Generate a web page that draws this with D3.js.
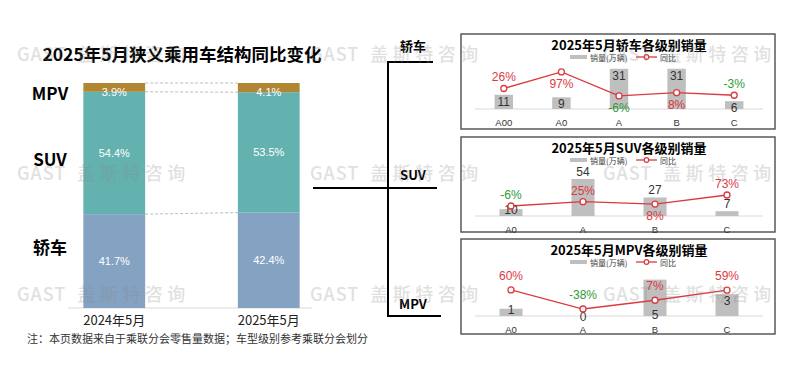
<!DOCTYPE html>
<html>
<head>
<meta charset="UTF-8">
<script src="https://cdn.jsdelivr.net/npm/d3@7"></script>
<style>
  body { margin: 0; background: #fff; }
  text { font-family: "Liberation Sans", "Noto Sans CJK SC", sans-serif; }
  .cjk { font-family: "Noto Sans CJK SC", sans-serif; }
</style>
</head>
<body>
<svg id="chart" width="800" height="375"></svg>
<script>
// left: structure share
var years = ['2024年5月', '2025年5月'];
var segments = ['轿车', 'SUV', 'MPV'];
var share2024 = [41.7, 54.4, 3.9];
var share2025 = [42.4, 53.5, 4.1];

// right: sales (万辆) and yoy (%) by level
var sedanLevels = ['A00', 'A0', 'A', 'B', 'C'];
var sedanSales = [11, 9, 31, 31, 6];
var sedanYoy = [26, 97, -6, 8, -3];

var suvLevels = ['A0', 'A', 'B', 'C'];
var suvSales = [10, 54, 27, 7];
var suvYoy = [-6, 25, 8, 73];

var mpvLevels = ['A0', 'A', 'B', 'C'];
var mpvSales = [1, 0, 5, 3];
var mpvYoy = [60, -38, 7, 59];

var segColors = ['#84A2C2', '#63B2AF', '#B08632'];
var RED = '#DB3A3F', GREEN = '#2F9A35';

var svg = d3.select('#chart');

// ---------- left stacked chart ----------
svg.append('text').attr('class', 'cjk')
  .attr('x', 182).attr('y', 53).attr('text-anchor', 'middle').attr('dominant-baseline', 'central')
  .style('font-size', '17.5px').style('font-weight', 700).attr('fill', '#000')
  .text('2025年5月狭义乘用车结构同比变化');

var x = d3.scaleBand().domain(years).range([37, 346]).paddingInner(0.6).paddingOuter(0.3);
var y = d3.scaleLinear().domain([0, 100]).range([308, 83]);

var shares = [share2024, share2025];
var stacks = shares.map(function(s) {
  var acc = 0;
  return s.map(function(v, i) { var d = {seg: i, v: v, y0: acc, y1: acc + v}; acc += v; return d; });
});

// dashed links between bars: top, MPV/SUV edge, SUV/轿车 edge
[[100, 100], [stacks[0][1].y1, stacks[1][1].y1], [stacks[0][0].y1, stacks[1][0].y1]].forEach(function(ab) {
  svg.append('line')
    .attr('x1', x(years[0]) + x.bandwidth()).attr('y1', y(ab[0]))
    .attr('x2', x(years[1])).attr('y2', y(ab[1]))
    .attr('stroke', '#bdbdbd').attr('stroke-width', 1).attr('stroke-dasharray', '3,2');
});

svg.append('line').attr('x1', 68).attr('x2', 312).attr('y1', y(0)).attr('y2', y(0))
  .attr('stroke', '#d9d9d9').attr('stroke-width', 1);

stacks.forEach(function(st, yi) {
  var g = svg.append('g');
  g.selectAll('rect').data(st).enter().append('rect')
    .attr('x', x(years[yi])).attr('width', x.bandwidth())
    .attr('y', function(d) { return y(d.y1); })
    .attr('height', function(d) { return y(d.y0) - y(d.y1); })
    .attr('fill', function(d) { return segColors[d.seg]; });
  g.selectAll('text').data(st).enter().append('text')
    .attr('x', x(years[yi]) + x.bandwidth() / 2)
    .attr('y', function(d) {
      var h = y(d.y0) - y(d.y1);
      return h < 14 ? y(d.y0) : (y(d.y0) + y(d.y1)) / 2;
    })
    .attr('text-anchor', 'middle').attr('dominant-baseline', 'central')
    .style('font-size', '11px').attr('fill', '#fff')
    .text(function(d) { return d3.format('.1f')(d.v) + '%'; });
  svg.append('text').attr('class', 'cjk')
    .attr('x', x(years[yi]) + x.bandwidth() / 2).attr('y', y(0) + 11)
    .attr('text-anchor', 'middle').attr('dominant-baseline', 'central')
    .style('font-size', '13px').attr('fill', '#222').text(years[yi]);
});

// segment names on the left
var segLabelAt = [27.5, 66.5, 96];
segments.forEach(function(s, i) {
  svg.append('text').attr('class', 'cjk')
    .attr('x', 50).attr('y', y(segLabelAt[i]))
    .attr('text-anchor', 'middle').attr('dominant-baseline', 'central')
    .style('font-size', '17px').style('font-weight', 700).attr('fill', '#000').text(s);
});

svg.append('text').attr('class', 'cjk')
  .attr('x', 27).attr('y', 338).attr('dominant-baseline', 'central')
  .style('font-size', '11px').attr('fill', '#333')
  .text('注：本页数据来自于乘联分会零售量数据；车型级别参考乘联分会划分');

// ---------- bracket connector ----------
var conn = svg.append('g').attr('stroke', '#000').attr('stroke-width', 2).attr('fill', 'none');
conn.append('path').attr('d', 'M433,62H388V316H441');
conn.append('path').attr('d', 'M313,188H437');
[['轿车', 45], ['SUV', 174], ['MPV', 303]].forEach(function(t) {
  svg.append('text').attr('class', 'cjk').attr('x', 413).attr('y', t[1])
    .attr('text-anchor', 'middle').attr('dominant-baseline', 'central')
    .style('font-size', '13px').style('font-weight', 700).attr('fill', '#000').text(t[0]);
});

// ---------- right panels ----------
var panels = [
  {title: '2025年5月轿车各级别销量', cats: sedanLevels, sales: sedanSales, yoy: sedanYoy,
   top: 34, h: 95, base: 109, barMax: 37, yoyDomain: [-62, 144],
   barPos: ['in', 'in', 'in', 'in', 'in'], yoyPos: ['above', 'below', 'below', 'below', 'above']},
  {title: '2025年5月SUV各级别销量', cats: suvLevels, sales: suvSales, yoy: suvYoy,
   top: 137, h: 95, base: 216, barMax: 70, yoyDomain: [-78, 267],
   barPos: ['top', 'out', 'out', 'out'], yoyPos: ['above', 'above', 'below', 'above']},
  {title: '2025年5月MPV各级别销量', cats: mpvLevels, sales: mpvSales, yoy: mpvYoy,
   top: 239, h: 95, base: 316, barMax: 6.6, yoyDomain: [-74, 173],
   barPos: ['top', 'top', 'base', 'in'], yoyPos: ['above2', 'above2', 'above2', 'above2']}
];

function drawPanel(p) {
  var g = svg.append('g');
  g.append('rect').attr('x', 461).attr('y', p.top).attr('width', 314).attr('height', p.h)
    .attr('fill', 'none').attr('stroke', '#595959').attr('stroke-width', 1.5);
  g.append('text').attr('class', 'cjk').attr('x', 629).attr('y', p.top + 10)
    .attr('text-anchor', 'middle').attr('dominant-baseline', 'central')
    .style('font-size', '13px').style('font-weight', 700).attr('fill', '#000').text(p.title);

  // legend
  var ly = p.top + 23;
  g.append('rect').attr('x', 570).attr('y', ly - 2).attr('width', 17).attr('height', 4).attr('fill', '#BFBFBF');
  g.append('text').attr('class', 'cjk').attr('x', 590).attr('y', ly).attr('dominant-baseline', 'central')
    .style('font-size', '8px').attr('fill', '#404040').text('销量(万辆)');
  g.append('line').attr('x1', 636).attr('x2', 657).attr('y1', ly).attr('y2', ly).attr('stroke', RED).attr('stroke-width', 1.3);
  g.append('circle').attr('cx', 646.5).attr('cy', ly).attr('r', 2.3).attr('fill', '#fff').attr('stroke', RED).attr('stroke-width', 1.2);
  g.append('text').attr('class', 'cjk').attr('x', 660).attr('y', ly).attr('dominant-baseline', 'central')
    .style('font-size', '8px').attr('fill', '#404040').text('同比');

  var xb = d3.scaleBand().domain(p.cats).range([475, 763]).paddingInner(0.68).paddingOuter(0.34);
  var yb = d3.scaleLinear().domain([0, p.barMax]).range([p.base, p.base - 48]);
  var yl = d3.scaleLinear().domain(p.yoyDomain).range([p.base, p.base - 48]);
  var cx = function(c) { return xb(c) + xb.bandwidth() / 2; };

  g.append('line').attr('x1', 475).attr('x2', 763).attr('y1', p.base).attr('y2', p.base)
    .attr('stroke', '#d9d9d9').attr('stroke-width', 1);

  g.selectAll('.bar').data(p.sales).enter().append('rect')
    .attr('x', function(d, i) { return xb(p.cats[i]); }).attr('width', xb.bandwidth())
    .attr('y', function(d) { return yb(d); })
    .attr('height', function(d) { return p.base - yb(d); })
    .attr('fill', '#BFBFBF');

  g.selectAll('.cat').data(p.cats).enter().append('text')
    .attr('x', cx).attr('y', p.base + 13)
    .attr('text-anchor', 'middle').attr('dominant-baseline', 'central')
    .style('font-size', '9.5px').attr('fill', '#333').text(function(d) { return d; });

  var line = d3.line().x(function(d, i) { return cx(p.cats[i]); }).y(function(d) { return yl(d); });
  g.append('path').datum(p.yoy).attr('d', line).attr('fill', 'none').attr('stroke', RED).attr('stroke-width', 1.3);

  g.selectAll('.barlab').data(p.sales).enter().append('text')
    .attr('x', function(d, i) { return cx(p.cats[i]); })
    .attr('y', function(d, i) {
      var t = yb(d), m = p.barPos[i];
      if (m === 'in') return t + 7;
      if (m === 'out') return t - 7;
      if (m === 'base') return p.base - 1;
      return t + 1;
    })
    .attr('text-anchor', 'middle').attr('dominant-baseline', 'central')
    .style('font-size', '12px').attr('fill', '#333').text(function(d) { return d; });

  g.selectAll('.pt').data(p.yoy).enter().append('circle')
    .attr('cx', function(d, i) { return cx(p.cats[i]); }).attr('cy', function(d) { return yl(d); })
    .attr('r', 3).attr('fill', '#fff').attr('stroke', RED).attr('stroke-width', 1.3);

  g.selectAll('.yoylab').data(p.yoy).enter().append('text')
    .attr('x', function(d, i) { return cx(p.cats[i]); })
    .attr('y', function(d, i) {
      var m = p.yoyPos[i];
      if (m === 'below') return yl(d) + 12;
      if (m === 'above2') return yl(d) - 14;
      return yl(d) - 11;
    })
    .attr('text-anchor', 'middle').attr('dominant-baseline', 'central')
    .style('font-size', '12px').attr('fill', function(d) { return d < 0 ? GREEN : RED; })
    .text(function(d) { return d + '%'; });
}
panels.forEach(drawPanel);

// ---------- watermark ----------
var wm = svg.append('g').attr('fill', '#888').attr('opacity', 0.25).style('pointer-events', 'none');
[53, 172, 293].forEach(function(wy) {
  [17, 310, 603].forEach(function(wx) {
    var t = wm.append('text').attr('class', 'cjk').attr('x', wx).attr('y', wy)
      .attr('dominant-baseline', 'central').style('font-size', '18px').style('font-weight', 500);
    t.append('tspan').style('letter-spacing', '1px').text('GAST ');
    t.append('tspan').attr('dx', 6).style('letter-spacing', '4.5px').text('盖斯特咨询');
  });
});
</script>
</body>
</html>
